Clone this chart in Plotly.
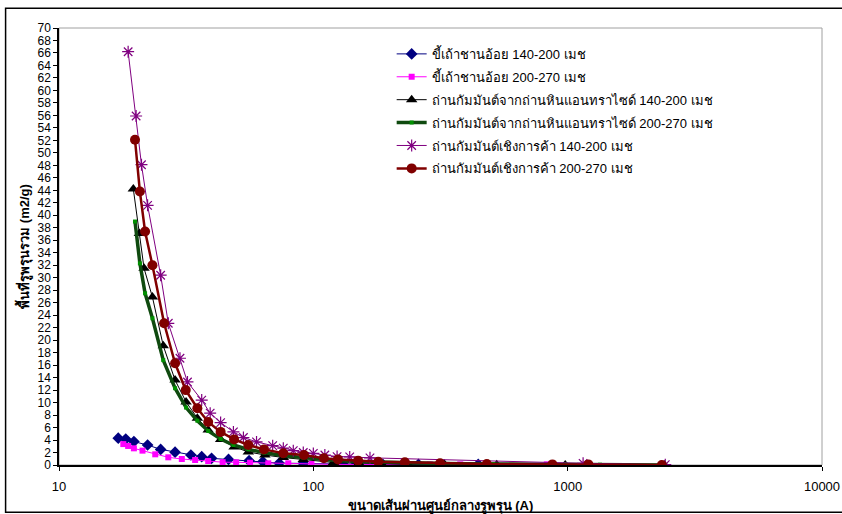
import plotly.graph_objects as go

# Pore-size distribution: cumulative pore area vs pore diameter (Angstrom)
names = [
    "ขี้เถ้าชานอ้อย 140-200 เมช",
    "ขี้เถ้าชานอ้อย 200-270 เมช",
    "ถ่านกัมมันต์จากถ่านหินแอนทราไซด์ 140-200 เมช",
    "ถ่านกัมมันต์จากถ่านหินแอนทราไซด์ 200-270 เมช",
    "ถ่านกัมมันต์เชิงการค้า 140-200 เมช",
    "ถ่านกัมมันต์เชิงการค้า 200-270 เมช",
]

bag140_x = [17.1, 18.3, 19.7, 22.3, 25.1, 28.6, 33.0, 36.4, 39.8, 46.4, 55.9, 63.3, 73.4,
            91.3, 131, 147, 188, 259, 445]
bag140_y = [4.3, 4.15, 3.75, 3.2, 2.5, 2.05, 1.6, 1.33, 1.07, 0.9, 0.69, 0.53, 0.3,
            0.25, 0.1, 0.05, 0.05, 0.1, 0.1]

bag200_x = [17.9, 18.7, 19.7, 21.3, 23.9, 26.9, 30.4, 34.3, 38.6, 44.0, 49.7, 56.4, 66.5,
            79.7, 98.3, 120, 287, 378, 828]
bag200_y = [3.35, 3.05, 2.67, 2.3, 1.71, 1.23, 0.96, 0.8, 0.64, 0.45, 0.43, 0.37, 0.27,
            0.27, 0.16, 0.1, 0.1, 0.1, 0.1]

ant140_x = [19.6, 20.7, 21.6, 23.3, 25.7, 28.6, 31.6, 35.0, 38.6, 43.2, 48.8, 55.5, 64.5,
            76.2, 91.3, 120, 151, 186, 236, 327, 526, 978, 2400]
ant140_y = [44.2, 37.1, 31.5, 26.9, 19.1, 13.6, 10.1, 7.5, 5.6, 4.1, 2.9, 2.1, 1.6,
            1.2, 0.9, 0.4, 0.3, 0.15, 0.1, 0.15, 0.05, 0.02, 0.0]

ant200_x = [19.9, 20.8, 21.8, 23.3, 25.7, 28.6, 31.6, 35.0, 38.6, 43.2, 48.5, 55.5, 64.0,
            76.2, 91.3, 110, 125, 150, 180, 230, 320, 510, 980, 1340, 2420]
ant200_y = [39.0, 32.3, 27.5, 23.5, 16.8, 12.3, 9.2, 7.1, 5.45, 4.16, 3.2, 2.5, 2.0,
            1.5, 1.2, 0.9, 0.7, 0.55, 0.45, 0.35, 0.25, 0.16, 0.1, 0.05, 0.0]

com140_x = [18.7, 20.1, 21.1, 22.3, 25.1, 26.9, 29.9, 32.0, 36.4, 39.3, 43.2, 48.5, 53.1,
            59.8, 69.2, 76.2, 83.4, 91.3, 100, 111, 124, 139, 167, 1150, 2420]
com140_y = [66.2, 55.9, 48.1, 41.6, 30.4, 22.7, 17.1, 13.3, 10.4, 8.3, 6.8, 5.3, 4.4,
            3.7, 3.1, 2.7, 2.3, 2.0, 1.85, 1.6, 1.35, 1.3, 1.15, 0.27, 0.05]

com200_x = [19.9, 20.8, 21.8, 23.3, 25.9, 28.6, 31.5, 35.0, 38.6, 43.2, 48.8, 55.5, 64.0,
            76.2, 91.9, 110, 125, 150, 180, 229, 315, 481, 871, 1206, 2345]
com200_y = [52.1, 43.8, 37.4, 32.0, 22.7, 16.3, 12.0, 9.1, 6.9, 5.3, 4.1, 3.2, 2.5,
            1.87, 1.6, 1.07, 0.9, 0.7, 0.53, 0.43, 0.27, 0.16, 0.1, 0.1, 0.0]

y_ticks = list(range(0, 71, 2))
x_ticks = [10, 100, 1000, 10000]

series = [
    (bag140_x, bag140_y, dict(color="#000080", width=1),
     dict(symbol="diamond", size=9, color="#000080")),
    (bag200_x, bag200_y, dict(color="#FF00FF", width=1),
     dict(symbol="square", size=6, color="#FF00FF")),
    (ant140_x, ant140_y, dict(color="#000000", width=1),
     dict(symbol="triangle-up", size=10, color="#000000")),
    (ant200_x, ant200_y, dict(color="#0F4A0F", width=3.5),
     dict(symbol="square", size=4, color="#009000")),
    (com140_x, com140_y, dict(color="#800080", width=1),
     dict(symbol="asterisk-open", size=10, color="#800080",
          line=dict(color="#800080", width=1.2))),
    (com200_x, com200_y, dict(color="#800000", width=2.5),
     dict(symbol="circle", size=10, color="#800000")),
]

fig = go.Figure()
for i, (name, (xs, ys, ln, mk)) in enumerate(zip(names, series)):
    fig.add_trace(go.Scatter(
        x=xs, y=ys, name=name, mode="lines+markers",
        line=ln, marker=mk, legendgroup=f"g{i}",
    ))

base_font = "Liberation Sans, Arial, Noto Sans, sans-serif"

fig.update_layout(
    width=842, height=514,
    margin=dict(l=59, r=20, t=28, b=49, autoexpand=False),
    paper_bgcolor="white", plot_bgcolor="white",
    font=dict(family=base_font, size=13, color="black"),
    showlegend=True,
    legend=dict(
        x=0.436, y=0.975, xanchor="left", yanchor="top",
        bgcolor="rgba(0,0,0,0)", borderwidth=0,
        font=dict(size=13), tracegroupgap=3,
        traceorder="grouped",
    ),
    xaxis=dict(
        type="log", range=[1, 4],
        tickvals=x_ticks, ticktext=[str(v) for v in x_ticks],
        ticks="outside", ticklen=4, tickcolor="black",
        showline=True, linecolor="black", linewidth=1.5,
        showgrid=False, zeroline=False, automargin=False,
        ticklabelstandoff=5,
        title=dict(text="<b>ขนาดเส้นผ่านศูนย์กลางรูพรุน (A)</b>",
                   font=dict(size=13), standoff=8),
        tickfont=dict(size=13),
    ),
    yaxis=dict(
        range=[0, 70],
        tickvals=y_ticks, ticktext=[str(v) for v in y_ticks],
        ticks="outside", ticklen=4, tickcolor="black",
        showline=True, linecolor="black", linewidth=1.5,
        showgrid=False, zeroline=False, automargin=False,
        title=dict(text="<b>พื้นที่รูพรุนรวม (m2/g)</b>",
                   font=dict(size=13), standoff=5),
        tickfont=dict(size=12),
    ),
    shapes=[
        # gray plot-area border (top and right edges)
        dict(type="rect", xref="paper", yref="paper", x0=0, y0=0, x1=1, y1=1,
             line=dict(color="#A0A0A0", width=1), layer="below"),
        # outer chart frame
        dict(type="rect", xref="paper", yref="paper",
             x0=-0.070, y0=-0.108, x1=1.05, y1=1.045,
             line=dict(color="black", width=1.5)),
    ],
)

fig.write_html("out.html")
